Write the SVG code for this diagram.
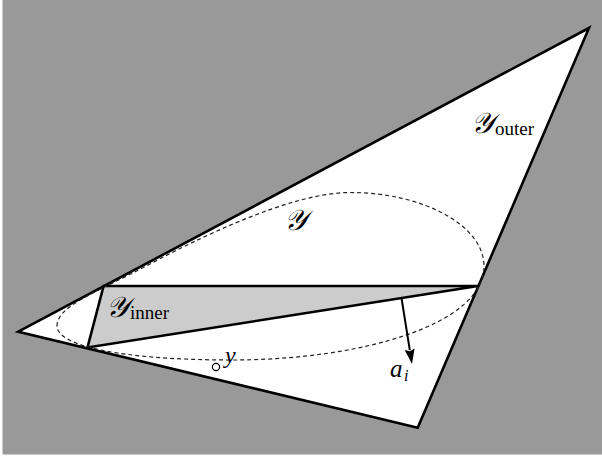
<svg xmlns="http://www.w3.org/2000/svg" width="602" height="457" viewBox="0 0 602 457">
<style>
.edge{stroke:#000;stroke-width:2.6;stroke-linejoin:miter}
.dash{fill:none;stroke:#222;stroke-width:1.2;stroke-dasharray:4 3}
.cal{font-family:"DejaVu Serif","DejaVu Sans",serif;font-style:italic;font-size:29px;fill:#000}
.rm{font-family:"Liberation Serif",serif;font-size:19px;fill:#000}
.mi{font-family:"Liberation Serif",serif;font-style:italic;fill:#000}
</style>
<defs>
<marker id="ah" markerUnits="userSpaceOnUse" markerWidth="16" markerHeight="12" viewBox="0 -6 16 12" refX="1" refY="0" orient="auto">
<path d="M0,-5 L15,0 L0,5 L2,0 Z" fill="#000"/>
</marker>
</defs>
<rect x="0" y="0" width="602" height="457" fill="#fff"/>
<rect x="2.5" y="0" width="600" height="454.5" fill="#999"/>
<g id="outer">
<polygon points="18.3,331.7 589,28 417.7,427.7" style="fill:#fff" class="edge"/>
<text x="471" y="133" class="cal">𝒴</text><text x="495" y="135" class="rm">outer</text>
</g>
<g id="inner">
<polygon points="103.6,286 478,286 87.5,347.5" style="fill:#ccc" class="edge"/>
<text x="106" y="317" class="cal">𝒴</text><text x="130" y="319" class="rm">inner</text>
</g>
<g id="ellipse">
<path class="dash" d="M57,326 C57,306 95,293.2 150,264 C195,240.1 290,192.5 350,192.5 C424,192.5 484,226 484,266 C484,325 360,360 232,360 C122,360 57,346 57,326 Z"/>
<text x="284" y="230" class="cal">𝒴</text>
</g>
<g id="point">
<circle cx="216" cy="367" r="3.6" fill="#fff" stroke="#000" stroke-width="1.2"/>
<text x="225" y="363" class="mi" font-size="24">y</text>
</g>
<g id="connectors">
<line x1="401.5" y1="298" x2="409.8" y2="350.2" stroke="#000" stroke-width="2" marker-end="url(#ah)"/>
</g>
<g id="normal-label">
<text x="390" y="377" class="mi" font-size="25">a</text><text x="404" y="381" class="mi" font-size="16">i</text>
</g>
</svg>
